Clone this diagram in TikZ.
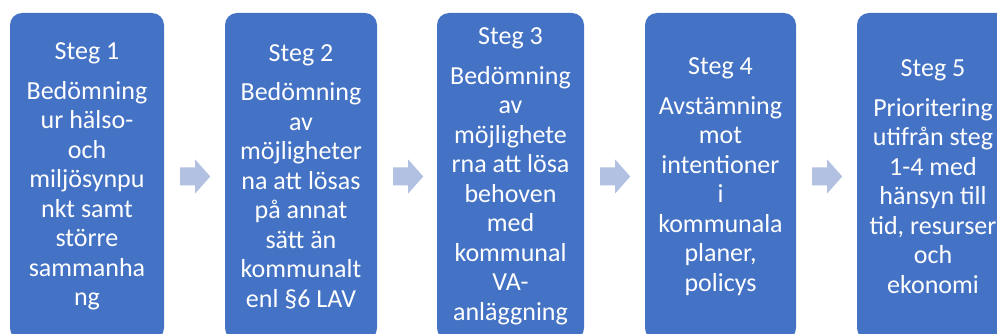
\documentclass[tikz,border=0pt]{standalone}
\usepackage{fontspec}
\setmainfont{Carlito}
\usetikzlibrary{calc}
\definecolor{boxblue}{RGB}{68,114,196}
\definecolor{arrowblue}{RGB}{178,193,225}
\tikzset{
  stegbox/.style={fill=boxblue, draw=none, rounded corners=12pt, minimum height=327pt,
    inner sep=0pt, align=center, text=white, font=\fontsize{26}{29.5}\selectfont},
  stegpilfill/.style={fill=arrowblue, draw=none}
}
\newcommand\stegpil[1]{%
  \fill[stegpilfill] ($(#1.east)+(16,-9)$) -- ++(15,0) -- ++(0,-8) -- ++(15,17)
    -- ++(-15,17) -- ++(0,-8) -- ++(-15,0) -- cycle;}
\begin{document}
\begin{tikzpicture}[x=1pt,y=-1pt]
\clip (0,0) rectangle (997,334);
\fill[white] (0,0) rectangle (997,334);
\node[stegbox, minimum width=154pt] (b1) at (87,176.5)
  {Steg 1\\[10pt]Bedömning\\ur hälso-\\och\\miljösynpu\\nkt samt\\större\\sammanha\\ng};
\node[stegbox, minimum width=152pt] (b2) at (301,176.5)
  {Steg 2\\[10pt]Bedömning\\av\\möjligheter\\na att lösas\\på annat\\sätt än\\kommunalt\\enl §6 LAV};
\node[stegbox, minimum width=147pt] (b3) at (510.5,176.5)
  {Steg 3\\[10pt]Bedömning\\av\\möjlighete\\rna att lösa\\behoven\\med\\kommunal\\VA-\\anläggning};
\node[stegbox, minimum width=151pt] (b4) at (720.5,176.5)
  {Steg 4\\[10pt]Avstämning\\mot\\intentioner\\i\\kommunala\\planer,\\policys};
\node[stegbox, minimum width=152pt] (b5) at (933,176.5)
  {Steg 5\\[10pt]Prioritering\\utifrån steg\\1-4 med\\hänsyn till\\tid, resurser\\och\\ekonomi};
\stegpil{b1}
\stegpil{b2}
\stegpil{b3}
\stegpil{b4}
\end{tikzpicture}
\end{document}
